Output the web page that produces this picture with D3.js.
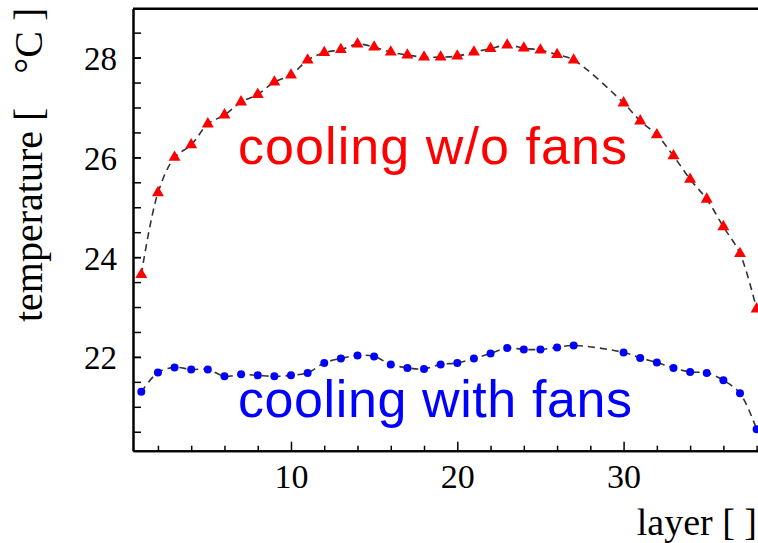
<!DOCTYPE html>
<html>
<head>
<meta charset="utf-8">
<script src="https://cdn.jsdelivr.net/npm/d3@7"></script>
<style>
  body { margin: 0; background: #fff; }
  svg { display: block; }
</style>
</head>
<body>
<div id="chart"></div>
<script>
const layers = [1,2,3,4,5,6,7,8,9,10,11,12,13,14,15,16,17,18,19,20,21,22,23,24,25,26,27,30,31,32,33,34,35,36,37,38];
const noFans = [23.65,25.29,26.0,26.25,26.67,26.85,27.11,27.26,27.51,27.65,27.95,28.1,28.16,28.27,28.21,28.11,28.05,28.01,28.01,28.03,28.11,28.18,28.25,28.19,28.15,28.06,27.95,27.09,26.73,26.45,26.03,25.56,25.16,24.61,24.07,22.96];
const withFans = [21.3,21.69,21.79,21.75,21.75,21.61,21.65,21.63,21.61,21.63,21.68,21.88,21.97,22.03,22.01,21.85,21.78,21.76,21.85,21.88,21.97,22.07,22.18,22.15,22.15,22.19,22.23,22.09,21.98,21.89,21.78,21.7,21.68,21.53,21.27,20.55];
const xMajor = [10, 20, 30];
const xMinor = [2,4,6,8,12,14,16,18,22,24,26,28,32,34,36,38];
const yMajor = [22, 24, 26, 28];
const yMinor = d3.range(20.5, 29, 0.5);

const width = 758, height = 543;
const plotLeft = 133, plotTop = 8.7, plotBottom = 450.7;

const svg = d3.select('#chart').append('svg')
    .attr('width', width)
    .attr('height', height);

const x = d3.scaleLinear().domain([0.5, 38.5]).range([plotLeft, plotLeft + 38 * 16.63]);
const y = d3.scaleLinear().domain([20.12, 28.98]).range([plotBottom, plotTop]);

// frame top
svg.append('line')
    .attr('x1', plotLeft).attr('x2', width)
    .attr('y1', plotTop).attr('y2', plotTop)
    .attr('stroke', '#000').attr('stroke-width', 2.5);

function styleAxis(g) {
    g.select('.domain').attr('stroke-width', 2).attr('stroke', '#000');
    g.selectAll('.tick line').attr('stroke-width', 1.5).attr('stroke', '#000');
    g.selectAll('text')
        .attr('font-family', '"Liberation Serif", "Times New Roman", serif')
        .attr('fill', '#000');
}

svg.append('g')
    .attr('transform', `translate(0,${plotBottom})`)
    .call(d3.axisBottom(x).tickValues(xMinor).tickSize(-5).tickSizeOuter(0).tickFormat(''))
    .call(styleAxis);
svg.append('g')
    .attr('transform', `translate(0,${plotBottom})`)
    .call(d3.axisBottom(x).tickValues(xMajor).tickSize(-9).tickSizeOuter(0).tickPadding(13))
    .call(styleAxis)
    .selectAll('text').attr('font-size', 34);

svg.append('g')
    .attr('transform', `translate(${plotLeft},0)`)
    .call(d3.axisLeft(y).tickValues(yMinor).tickSize(-8).tickSizeOuter(0).tickFormat(''))
    .call(styleAxis);
svg.append('g')
    .attr('transform', `translate(${plotLeft},0)`)
    .call(d3.axisLeft(y).tickValues(yMajor).tickSize(-8).tickSizeOuter(0).tickPadding(16))
    .call(styleAxis)
    .selectAll('text').attr('font-size', 33).attr('dy', '0.36em');

const curve = d3.line()
    .x((d, i) => x(layers[i]))
    .y(d => y(d))
    .curve(d3.curveCatmullRom.alpha(0.5));

[noFans, withFans].forEach(series => {
    svg.append('path')
        .attr('d', curve(series))
        .attr('fill', 'none')
        .attr('stroke', '#333')
        .attr('stroke-width', 1.6)
        .attr('stroke-dasharray', '7,5');
});

const tri = d3.symbol().type(d3.symbolTriangle).size(62);
svg.append('g').selectAll('path')
    .data(noFans)
    .join('path')
    .attr('d', tri)
    .attr('transform', (d, i) => `translate(${x(layers[i])},${y(d)})`)
    .attr('fill', '#ff0000');

svg.append('g').selectAll('circle')
    .data(withFans)
    .join('circle')
    .attr('cx', (d, i) => x(layers[i]))
    .attr('cy', d => y(d))
    .attr('r', 4)
    .attr('fill', '#0000ff');

svg.append('text')
    .attr('x', 238).attr('y', 163.5)
    .attr('font-family', '"Liberation Sans", Arial, sans-serif')
    .attr('font-size', 52)
    .attr('textLength', 389)
    .attr('lengthAdjust', 'spacing')
    .attr('fill', '#ff0000')
    .text('cooling w/o fans');

svg.append('text')
    .attr('x', 238).attr('y', 416.7)
    .attr('font-family', '"Liberation Sans", Arial, sans-serif')
    .attr('font-size', 52)
    .attr('textLength', 394)
    .attr('lengthAdjust', 'spacing')
    .attr('fill', '#0000ff')
    .text('cooling with fans');

// axis titles
svg.append('text')
    .attr('x', 757).attr('y', 535)
    .attr('text-anchor', 'end')
    .attr('font-family', '"Liberation Serif", "Times New Roman", serif')
    .attr('font-size', 38)
    .text('layer [ ]');

const yTitle = svg.append('text')
    .attr('transform', 'translate(42,322) rotate(-90)')
    .attr('font-family', '"Liberation Serif", "Times New Roman", serif')
    .attr('font-size', 40);
yTitle.append('tspan').text('temperature [');
yTitle.append('tspan').attr('dx', 34).text('°C ]');
</script>
</body>
</html>
